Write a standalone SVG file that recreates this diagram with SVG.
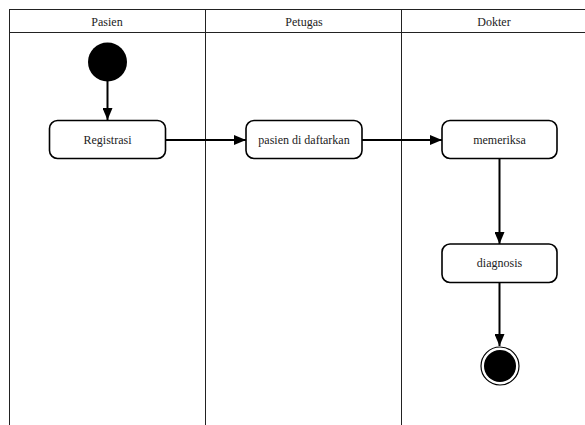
<svg xmlns="http://www.w3.org/2000/svg" width="585" height="425" viewBox="0 0 585 425">
  <style>
    text { font-family: "Liberation Serif", "DejaVu Serif", "Times New Roman", Times, serif; }
    .lane { fill: none; stroke: #222; stroke-width: 1; }
    .hdr { font-size: 12px; fill: #222; text-anchor: middle; }
    .act rect { fill: #fff; stroke: #000; stroke-width: 1.6; }
    .act text { font-size: 12px; fill: #222; text-anchor: middle; }
    .flow { fill: none; stroke: #000; stroke-width: 2; marker-end: url(#arrow); }
  </style>
  <defs>
    <marker id="arrow" viewBox="0 0 12 10" refX="12" refY="5" markerWidth="12" markerHeight="10" markerUnits="userSpaceOnUse" orient="auto">
      <path d="M0,0 L12,5 L0,10 Z" fill="#000"/>
    </marker>
  </defs>
  <rect width="585" height="425" fill="#fff"/>

  <!-- swimlanes -->
  <g id="lanes">
    <line class="lane" x1="9.5" y1="9.5" x2="585" y2="9.5"/>
    <line class="lane" x1="9.5" y1="32.5" x2="585" y2="32.5"/>
    <line class="lane" x1="9.5" y1="9" x2="9.5" y2="425"/>
    <line class="lane" x1="205.5" y1="9" x2="205.5" y2="425"/>
    <line class="lane" x1="401.5" y1="9" x2="401.5" y2="425"/>
    <text class="hdr" x="107" y="25.5" font-family="Liberation Serif">Pasien</text>
    <text class="hdr" x="304" y="25.5" font-family="Liberation Serif">Petugas</text>
    <text class="hdr" x="494" y="25.5" font-family="Liberation Serif">Dokter</text>
  </g>

  <!-- connectors -->
  <g id="connectors">
    <line class="flow" x1="107.5" y1="80" x2="107.5" y2="120"/>
    <line class="flow" x1="166" y1="140" x2="246" y2="140"/>
    <line class="flow" x1="362" y1="140" x2="442" y2="140"/>
    <line class="flow" x1="499.5" y1="159" x2="499.5" y2="244"/>
    <line class="flow" x1="499.5" y1="283" x2="499.5" y2="346"/>
  </g>

  <g id="start">
    <circle cx="107.5" cy="62" r="19.5" fill="#000"/>
  </g>

  <g id="registrasi" class="act">
    <rect x="49.5" y="120.5" width="116" height="38" rx="8"/>
    <text x="107.5" y="143.5" font-family="Liberation Serif">Registrasi</text>
  </g>

  <g id="pasien-di-daftarkan" class="act">
    <rect x="246" y="120.5" width="116" height="38" rx="8"/>
    <text x="304" y="143.5" font-family="Liberation Serif">pasien di daftarkan</text>
  </g>

  <g id="memeriksa" class="act">
    <rect x="442" y="120.5" width="115" height="38" rx="8"/>
    <text x="499.5" y="143.5" font-family="Liberation Serif">memeriksa</text>
  </g>

  <g id="diagnosis" class="act">
    <rect x="442" y="244" width="115" height="38.5" rx="8"/>
    <text x="499.5" y="267" font-family="Liberation Serif">diagnosis</text>
  </g>

  <g id="end">
    <circle cx="500" cy="366" r="19" fill="#fff" stroke="#000" stroke-width="1.2"/>
    <circle cx="500" cy="366" r="16" fill="#000"/>
  </g>
</svg>
